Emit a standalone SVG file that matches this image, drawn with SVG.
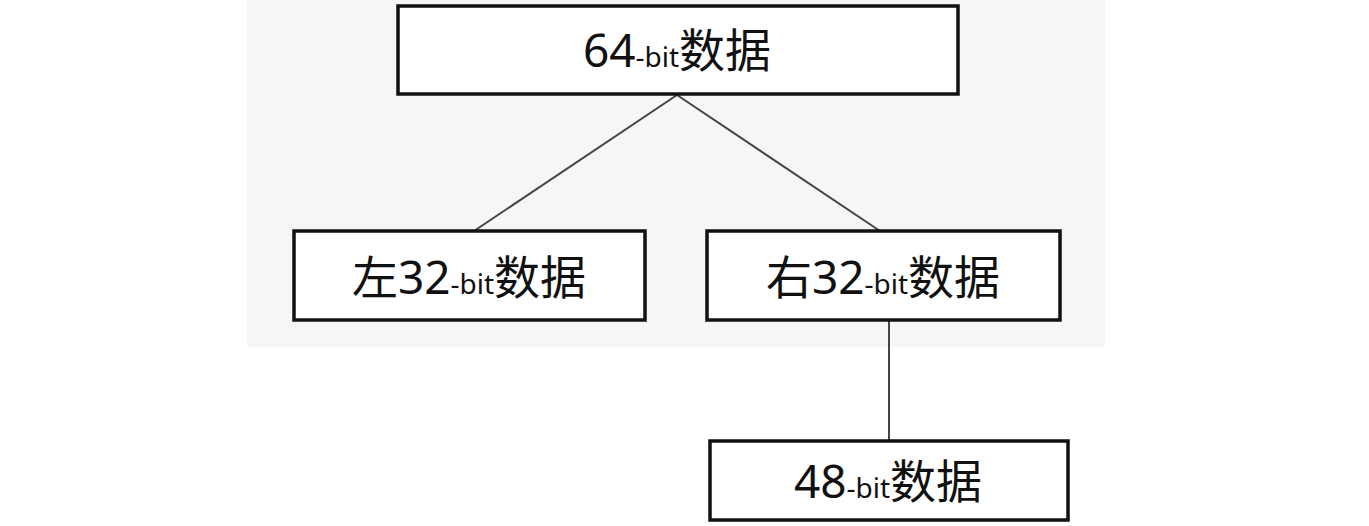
<svg xmlns="http://www.w3.org/2000/svg" width="1369" height="526" viewBox="0 0 1369 526">
<style>
.box{fill:#fff;stroke:#111;stroke-width:3.5}
.t{font-family:"Noto Sans","Noto Sans CJK SC",sans-serif;fill:#111;text-anchor:middle}
.s{font-size:28px}
.c{stroke:#444;stroke-width:2;fill:none}
</style>
<rect width="1369" height="526" fill="#fff"/>
<rect x="247" y="0" width="858" height="347" fill="#f6f6f6"/>
<g id="connectors">
<line class="c" x1="677" y1="95" x2="474" y2="231"/>
<line class="c" x1="677" y1="95" x2="880" y2="231"/>
<line class="c" x1="889" y1="320" x2="889" y2="441"/>
</g>
<g id="n64"><rect class="box" x="398" y="6" width="560" height="88"/>
<text class="t" x="677" y="67" font-size="46">64<tspan class="s">-bit</tspan>数据</text></g>
<g id="nleft"><rect class="box" x="294" y="231" width="351" height="89"/>
<text class="t" x="469" y="294" font-size="46">左32<tspan class="s">-bit</tspan>数据</text></g>
<g id="nright"><rect class="box" x="707" y="231" width="353" height="89"/>
<text class="t" x="883" y="294" font-size="46">右32<tspan class="s">-bit</tspan>数据</text></g>
<g id="n48"><rect class="box" x="710" y="441" width="358" height="79"/>
<text class="t" x="888" y="498" font-size="46">48<tspan class="s">-bit</tspan>数据</text></g>
</svg>
